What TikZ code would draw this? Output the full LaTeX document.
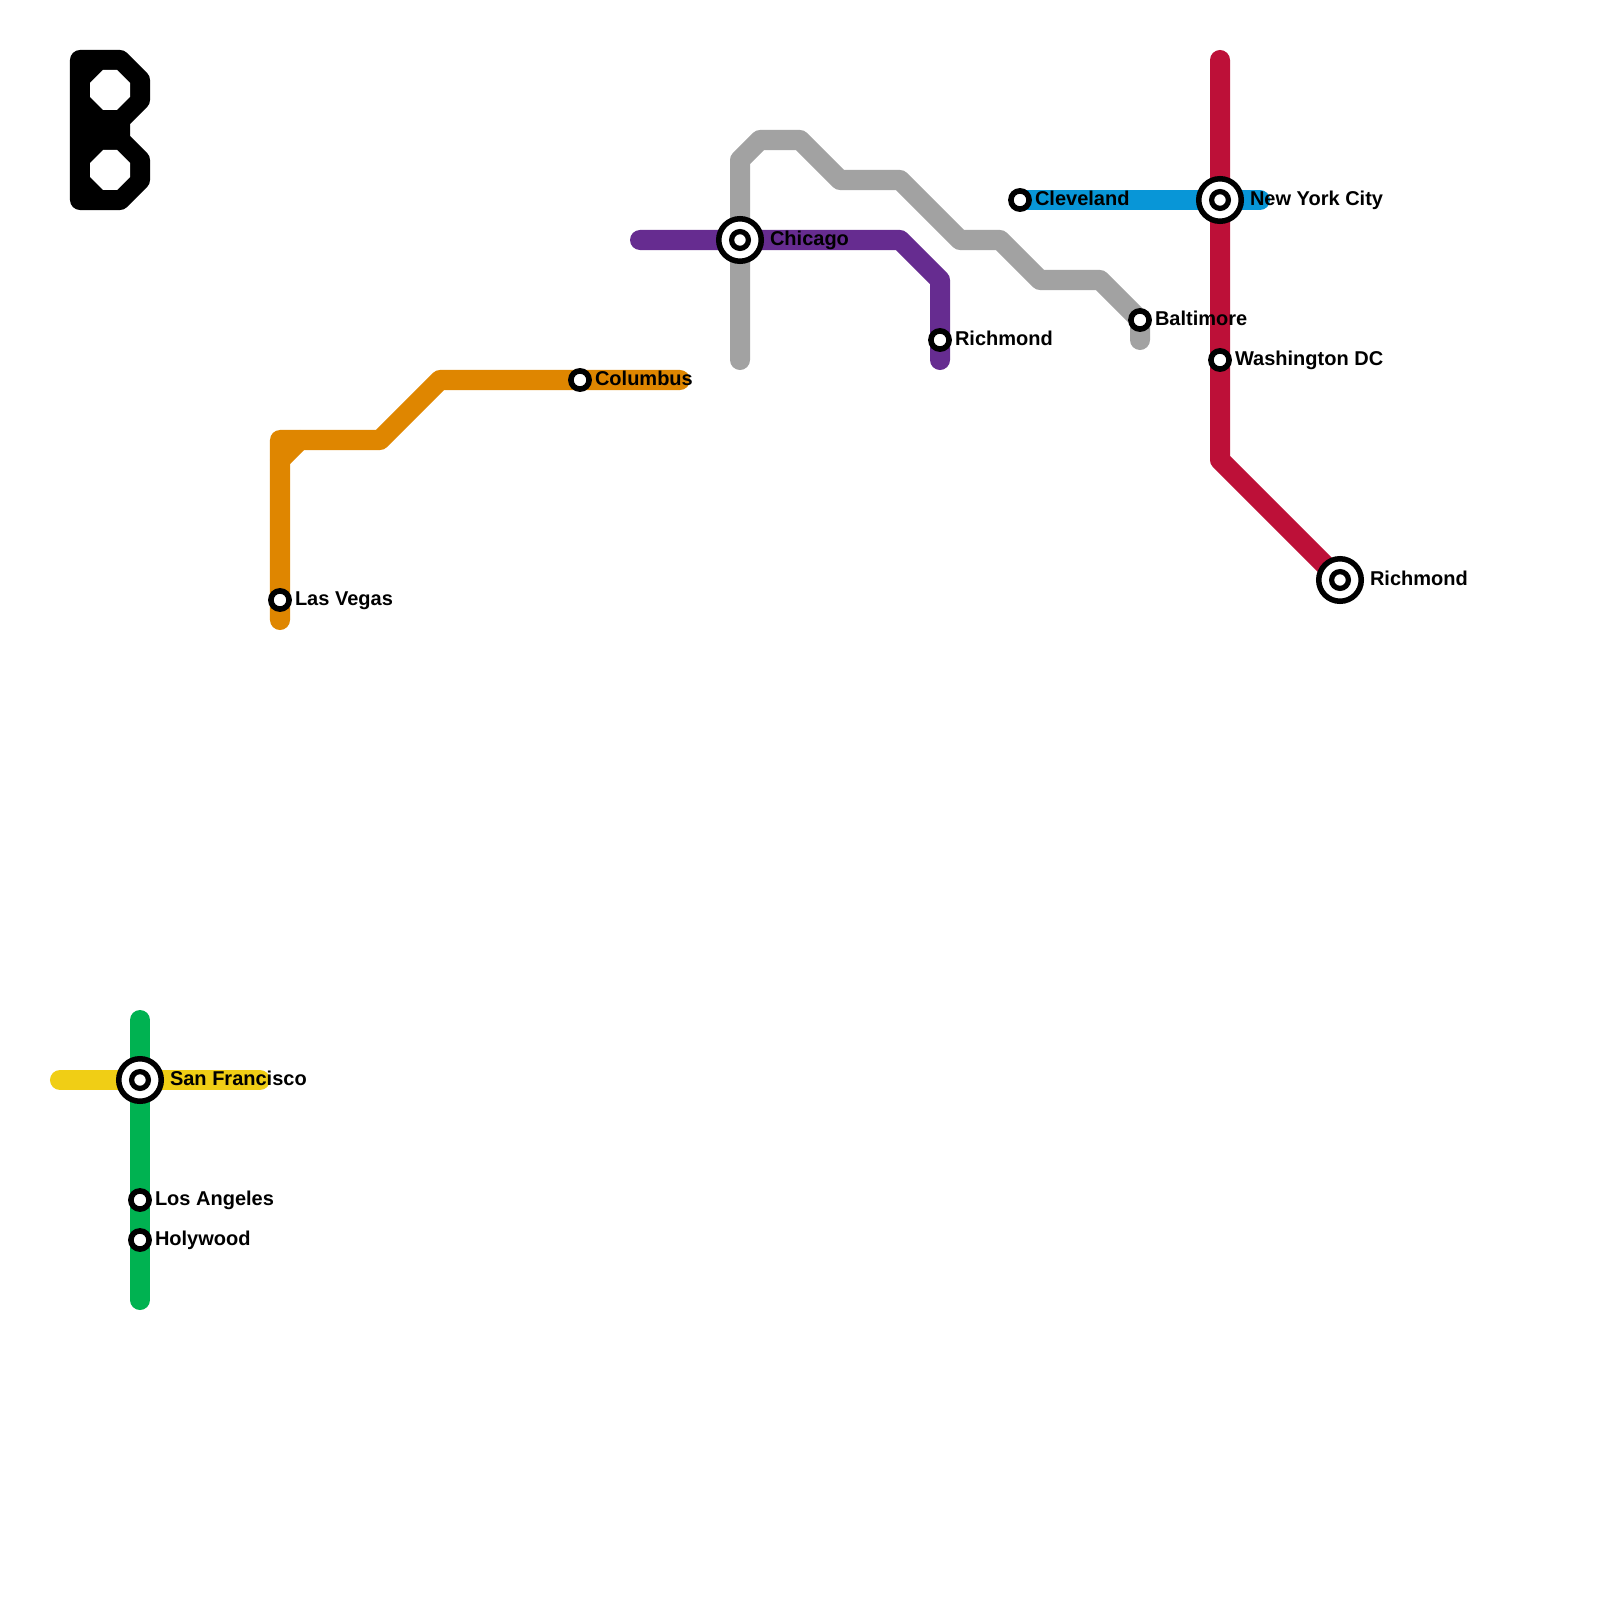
\documentclass[tikz,border=0pt]{standalone}
\usepackage{fontspec}
\setmainfont{Liberation Sans}
\usetikzlibrary{positioning,backgrounds}
\definecolor{lineorange}{RGB}{223,134,0}
\definecolor{linepurple}{RGB}{102,44,144}
\definecolor{linegray}{RGB}{162,162,162}
\definecolor{lineblue}{RGB}{8,150,215}
\definecolor{linered}{RGB}{189,16,56}
\definecolor{linegreen}{RGB}{0,178,81}
\definecolor{lineyellow}{RGB}{240,206,21}
\tikzset{
  metro/.style={line width=2mm,line cap=round,line join=round},
  stop/.style={circle,draw=black,fill=white,line width=0.56mm,minimum size=1.82mm,inner sep=0pt},
  hub/.style={circle,draw=black,fill=white,line width=0.55mm,minimum size=4.25mm,inner sep=0pt},
  hubcore/.style={circle,draw=black,fill=white,line width=0.52mm,minimum size=1.68mm,inner sep=0pt},
  stoplabel/.style={font=\fontsize{5.69}{7}\bfseries\selectfont,text=black,inner sep=0pt,outer sep=0pt,text height=1.4mm,text depth=0.4mm},
  logo/.style={draw=black,fill=black,line width=2mm,line join=round},
  logohole/.style={fill=white}
}
\begin{document}
\begin{tikzpicture}[x=0.01cm,y=-0.01cm]
  \useasboundingbox (0,0) rectangle (1600,1600);
  % stations
  \node[stop] (lasvegas) at (280,600) {};
  \node[stop] (columbus) at (580,380) {};
  \node[hub] (chicago) at (740,240) {};
  \node[hubcore] (chicagoinner) at (chicago) {};
  \node[stop] (richmondp) at (940,340) {};
  \node[stop] (cleveland) at (1020,200) {};
  \node[hub] (newyork) at (1220,200) {};
  \node[hubcore] (newyorkinner) at (newyork) {};
  \node[stop] (baltimore) at (1140,320) {};
  \node[stop] (washington) at (1220,360) {};
  \node[hub] (richmondr) at (1340,580) {};
  \node[hubcore] (richmondrinner) at (richmondr) {};
  \node[hub] (sanfran) at (140,1080) {};
  \node[hubcore] (sanfraninner) at (sanfran) {};
  \node[stop] (losangeles) at (140,1200) {};
  \node[stop] (holywood) at (140,1240) {};
  % labels
  \node[stoplabel,right=0.31mm of lasvegas] (lasvegastext) {Las Vegas};
  \node[stoplabel,right=0.31mm of columbus] (columbustext) {Columbus};
  \node[stoplabel,right=0.6mm of chicago] (chicagotext) {Chicago};
  \node[stoplabel,right=0.31mm of richmondp] (richmondptext) {Richmond};
  \node[stoplabel,right=0.31mm of cleveland] (clevelandtext) {Cleveland};
  \node[stoplabel,right=0.6mm of newyork] (newyorktext) {New York City};
  \node[stoplabel,right=0.31mm of baltimore] (baltimoretext) {Baltimore};
  \node[stoplabel,right=0.31mm of washington] (washingtontext) {Washington DC};
  \node[stoplabel,right=0.6mm of richmondr] (richmondrtext) {Richmond};
  \node[stoplabel,right=0.6mm of sanfran] (sanfrantext) {San Francisco};
  \node[stoplabel,right=0.31mm of losangeles] (losangelestext) {Los Angeles};
  \node[stoplabel,right=0.31mm of holywood] (holywoodtext) {Holywood};
  % line ends and bends
  \coordinate (oa) at (280,620); \coordinate (ob) at (280,440); \coordinate (oc) at (380,440);
  \coordinate (od) at (440,380); \coordinate (oe) at (680,380);
  \coordinate (of) at (280,460); \coordinate (og) at (300,440);
  \coordinate (pa) at (640,240); \coordinate (pb) at (900,240); \coordinate (pc) at (940,280); \coordinate (pd) at (940,360);
  \coordinate (ga) at (740,360); \coordinate (gb) at (740,160); \coordinate (gc) at (760,140); \coordinate (gd) at (800,140);
  \coordinate (ge) at (840,180); \coordinate (gf) at (900,180); \coordinate (gg) at (960,240); \coordinate (gh) at (1000,240);
  \coordinate (gi) at (1040,280); \coordinate (gj) at (1100,280); \coordinate (gk) at (1140,340);
  \coordinate (ba) at (1260,200);
  \coordinate (ra) at (1220,60); \coordinate (rb) at (1220,460);
  \coordinate (na) at (140,1020); \coordinate (nb) at (140,1300);
  \coordinate (ya) at (60,1080); \coordinate (yb) at (260,1080);
  % lines
  \begin{scope}[on background layer]
    \draw[metro,lineorange] (oa) -- (ob) -- (oc) -- (od) -- (oe);
    \draw[metro,lineorange] (of) -- (og);
    \draw[metro,linegray] (ga) -- (gb) -- (gc) -- (gd) -- (ge) -- (gf) -- (gg) -- (gh) -- (gi) -- (gj) -- (baltimore.center) -- (gk);
    \draw[metro,linepurple] (pa) -- (pb) -- (pc) -- (pd);
    \draw[metro,lineblue] (cleveland.center) -- (ba);
    \draw[metro,linered] (ra) -- (rb) -- (richmondr.center);
    \draw[metro,lineyellow] (ya) -- (yb);
    \draw[metro,linegreen] (na) -- (nb);
  \end{scope}
  % logo
  \path[logo] (80,60) -- (120,60) -- (140,80) -- (140,100) -- (120,120) -- (120,140) -- (140,160) -- (140,180) -- (120,200) -- (80,200) -- cycle;
  \foreach \dy in {0,80} {
    \fill[logohole] (103,70+\dy) -- (117,70+\dy) -- (130,83+\dy) -- (130,97+\dy) -- (117,110+\dy) -- (103,110+\dy) -- (90,97+\dy) -- (90,83+\dy) -- cycle;
  }
\end{tikzpicture}
\end{document}
